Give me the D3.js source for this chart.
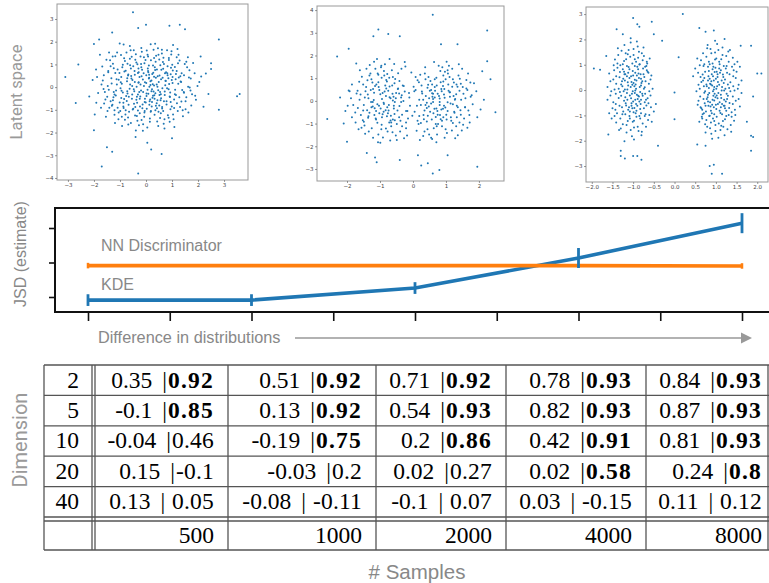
<!DOCTYPE html>
<html><head><meta charset="utf-8">
<script src="https://cdn.jsdelivr.net/npm/d3@7"></script>
<style>body{margin:0;background:#fff}svg{display:block}</style>
</head><body>
<svg id="c" width="769" height="583"></svg>
<script>
// ---------- data ----------
// latent space samples (x,y flat)
const latent1 = [-0.5,3.3,0,2.75,0.9,2.7,1.3,2.75,1.5,2.55,-1.3,2.4,-0.3,2.6,2.8,2.1,-2,1.9,-1.8,2.1,-3.1,0.45,-2.6,1.0,3.6,-0.3,3.5,-0.4,-2.7,-0.7,2.8,-1.0,-1.7,-3.5,-0.3,-3.8,-1.5,-2.65,-1.3,-2.85,0.6,-2.95,0.2,-2.75,0.05,-2.45,1.0,-2.25,-0.4,-2.2,-2.0,-1.9,2.5,1.05,2.5,0.8,2.3,0.6,2.1,1.35,2.4,-0.3,
-0.52,0.31,0.14,-0.62,1.02,0.45,-1.21,-0.33,0.37,1.12,-0.08,0.05,0.66,-1.05,-0.91,0.88,1.45,-0.21,-1.62,0.52,0.21,-0.18,-0.35,-1.27,0.83,0.92,-0.74,-0.61,1.18,1.31,-0.16,1.56,0.49,0.22,-1.05,-1.12,1.72,0.38,-0.44,0.71,0.03,-0.95,-1.38,1.18,0.92,-0.44,-0.63,-0.07,0.28,0.63,1.31,-0.88,-0.22,-0.41,-1.84,-0.26,0.61,1.48,-0.97,0.21,0.11,0.38,1.06,-1.41,-0.55,1.34,-1.29,-0.78,0.74,0.08,-0.11,-1.63,1.58,0.87,-0.81,-1.44,0.41,-0.71,-1.47,0.05,0.18,1.89,0.95,0.57,-0.29,0.19,1.92,-0.56,-0.68,0.56,0.33,-1.22,-1.11,1.52,0.57,-0.31,-0.41,-0.88,1.24,0.15,-1.73,-0.91,0.07,0.82,0.79,-0.77,-0.89,-0.24,1.49,1.02,-0.19,-0.15,0.46,1.71,-1.33,0.39,0.99,0.31,-0.58,-1.58,0.25,-0.47,-0.02,1.19,1.63,-1.12,-1.02,0.62,0.52,0.51,-0.37,-0.56,1.12,-0.12,-1.56,-0.55,0.15,-1.38,-0.71,1.03,0.88,1.19,-0.25,0.45,1.37,0.61,-1.19,-1.58,0.42,-0.93,-0.86,-0.92,0.01,0.18,2.05,0.22,-0.47,1.62,0.68,-1.61,-1.68,0.91,0.31,0.07,-0.13,-0.76,1.21,1.68,-0.95,-0.48,0.59,0.76,-2.05,0.31,0.09,-0.29,0.94,-0.98,-0.61,0.11,1.55,-0.45,-0.33,1.01,-1.24,0.83,0.72,-0.19,-0.06,-1.12,1.03,0.73,-0.79,-1.21,0.39,1.38,-1.43,-0.12,0.22,-0.85,1.81,1.06,-0.53,-0.32,0.86,0.39,-1.01,1.92,0.12,0.55,-0.39,-1.91,1.36,-0.63,-1.91,-0.69,0.63,-0.05,-0.15,0.76,1.09,-1.76,-0.72,0.39,0.36,-0.27,-1.16,-0.37,0.81,1.62,-0.31,-1.03,1.68,-0.02,-0.84,1.27,0.27,0.95,-1.54,-1.31,0.54,-1.36,-0.04,-0.51,1.26,0.42,-0.67,-0.78,0.17,0.26,2.21,-0.86,-1.32,0.16,0.77,0.65,-0.21,1.35,1.15,-0.35,-0.98,-0.05,0.44,-0.58,-1.77,1.42,0.05,-1.78,0.97,1.44,-0.49,0.92,1.42,-1.28,-1.09,-0.91,0.31,1.28,-0.26,-0.22,1.87,0.61,-0.65,-1.09,0.69,-0.62,-1.45,0.71,0.13,0.02,1.01,0.98,-0.83,0.69,0.48,-1.09,-2.18,-0.41,0.58,0.35,-0.17,-1.45,1.33,0.25,-1.27,1.03,0.84,-1.24,-0.43,0.22,1.61,1.32,-0.92,-1.71,0.23,-0.66,-0.09,0.61,1.19,-0.71,-1.63,-0.08,0.65,1.11,-0.34,-0.69,0.93,-0.24,-1.21,-1.02,0.06,1.43,1.74,-0.81,-0.57,0.49,0.38,0.41,-0.76,-0.39,1.46,0.52,-1.36,-0.62,0.19,-1.05,-0.12,0.33,0.89,0.14,-0.96,1.41,0.51,-0.81,2.12,0.47,-0.69,-1.34,0.29,1.65,-1.52,1.21,1.08,-0.55,-0.23,-0.85,0.71,-1.82,-0.41,1.21,1.29,1.17,-1.88,0.45,0.02,-0.39,0.82,0.61,-0.87,-0.69,0.34,0.87,-0.07,-1.31,1.52,-0.97,-1.13,0.35,0.47,-0.14,-0.54,-0.51,1.15,0.58,-1.41,-0.91,0.62,-0.94,-0.28,0.66,1.04,1.85,-0.73,0.26,0.16,-0.54,-1.06,-1.42,0.76,0.27,-0.18,1.72,1.39,-0.13,-1.66,0.29,0.43,-1.51,-0.45,-0.18,0.99,-0.85,-0.89,0.99,0.26,0.13,1.67,0.74,-1.24,-0.22,0.55,0.96,-0.01,-0.68,-0.62,1.81,1.22,-1.05,-1.97,-1.21,0.32,-0.36,-0.36,0.02,0.91,-1.52,-1.18,0.62,1.77,-0.31,-0.51,-0.99,0.08,0.71,0.67,1.29,-0.94,-0.16,1.11,0.89,-0.27,-1.68,0.45,0.48,-1.49,-0.42,1.98,0.05,-0.06,1.05,-0.78,-1.02,0.58,-0.49,-1.28,1.35,0.87,-0.09,-0.31,-0.33];
const latent1More = [0.12,0.41,-0.31,0.62,0.54,-0.21,-0.72,-0.18,0.27,-0.38,-0.18,0.88,0.83,0.52,-0.46,-0.73,0.06,-0.12,0.69,1.02,-0.95,0.45,0.41,0.11,-0.24,-0.51,1.11,-0.31,-0.61,0.96,0.18,-1.09,-1.12,0.12,0.79,-0.62,-0.08,1.31,0.35,0.75,-0.53,0.05,1.35,0.22,-0.87,-0.85,0.21,0.29,-0.39,1.45,0.62,-0.88,-1.25,-0.45,0.96,0.85,0.02,-0.28,-0.69,0.51,0.48,1.42,-0.14,-0.93,1.52,-0.62,-1.45,0.65,0.33,-0.51,-0.28,0.21,0.75,0.28,-1.01,-0.68,0.11,0.95,1.23,1.05,-0.42,-1.25,0.57,-1.15,-0.81,1.15,0.24,0.58,-0.05,-0.66,1.65,0.42,-1.58,-0.21,0.44,0.02,-0.37,1.08,0.91,-0.41,-0.66,-0.42,0.15,-1.52,-1.18,1.36,1.02,0.18,-0.21,0.12,0.66,0.81,-0.93,-1.31,0.38,-0.82,-0.56,0.38,1.41,-1.02,-1.36,0.92,0.09,0.65,0.72,-0.35,-0.11,-0.21,-0.78,0.72,1.18,0.71,-0.33,-1.48,0.51,1.22,-1.05,0.32,0.87,-1.35,0.03,1.61,-0.49,-0.95,1.71,-0.15,-1.71,0.12,0.29,-0.19,-0.59,1.62,1.28,-0.45,-1.21,-1.22,0.64,0.41,-0.17,0.48,0.98,1.58,-0.84,-0.52,0.47,-1.71,-0.04,0.21,1.08,-0.92,-1.42,1.52,0.19,1.18,-0.71,-0.28,0.81,-0.05,-0.29,0.82,1.55,1.12,-1.09,0.78,0.36,-1.02,-0.47,-0.09,0.73,0.61,-1.31,-0.82,0.13,-0.78,1.32,0.48,-0.62,1.25,0.56,-0.58,-0.93,0.15,0.08,1.35,1.89,-0.38,-1.61,-0.72,0.42,0.78,-0.24,-1.15,0.95,-0.65,-0.75,1.52,0.23,-0.09,-1.15,-0.15,1.14,0.35,-0.43,0.55,0.61,1.65,-0.99,-1.05,0.31,0.46,-0.12,-1.92,1.46,-0.25,-1.92,0.78,0.71,-1.42,-0.35,-0.42,0.88,1.28,-0.58,0.82,0.17,0.09,-1.27,-0.58,1.04,-1.21,-0.19,1.02,0.52,-0.35,-0.86,1.88,1.62,0.02,-0.05,-1.05,0.35,1.91,-0.68,-1.65,1.25,1.42,-1.48,-1.05,0.01,0.52];
const latent2 = [0.6,3.8,2.25,3.1,-1.05,3.15,-0.75,2.95,-1.2,2.85,-0.4,2.85,1.35,2.5,0.85,2.5,-2.3,1.95,-1.95,2.3,-2.6,-0.8,-2.1,-1.0,-2.0,-1.8,2.5,-0.5,2.35,0.95,2.1,1.3,2.25,1.75,-1.1,-2.7,-1.15,-2.5,-1.4,-2.3,0.25,-2.85,0.45,-2.75,0.6,-3.2,0.8,-3.05,1.95,-2.9,-0.4,-2.6,0.15,-2.4,1.05,-2.4,
-0.82,0.21,0.71,-0.34,-1.12,-0.45,0.95,0.52,-0.56,0.78,0.42,-0.91,-1.35,0.12,1.21,-0.15,-0.68,-0.87,0.58,0.34,-0.95,1.02,0.88,-1.12,-0.41,-0.23,1.45,0.76,-1.58,-0.62,0.31,0.05,-0.77,-1.35,1.06,1.21,-1.02,0.48,0.62,-0.55,-0.25,0.41,1.33,-0.72,-1.26,0.95,0.47,1.05,-0.88,-0.14,0.81,0.11,-1.47,-1.08,1.58,-0.28,-0.61,0.02,0.19,-0.67,-1.14,1.42,1.12,0.38,-0.49,-1.02,0.73,-1.48,-1.71,0.32,0.92,0.85,-0.33,-0.61,1.75,0.18,-0.92,-0.59,0.37,1.48,-1.22,-0.25,1.01,-0.61,-0.71,0.63,0.55,-0.12,-1.63,0.84,1.38,1.12,-0.52,-1.52,0.84,-0.81,-0.99,0.29,0.26,0.68,-1.39,-0.41,1.27,0.05,-0.64,1.35,0.66,0.61,-1.81,-0.18,1.52,-1.05,-0.36,0.15,0.98,-0.29,-1.08,-0.96,0.44,-1.25,-0.81,0.54,1.65,0.48,-1.31,1.58,0.12,-0.21,-0.58,-0.34,1.09,1.55,-1.52,-0.85,0.79,0.21,-0.21,-1.21,1.44,-0.41,-0.87,1.12,0.51,0.45,-1.19,0.04,1.18,-1.31,-0.46,0.52,0.69,-0.71,-1.95,0.46,0.99,0.95,-0.74,-0.42,0.35,-0.42,-1.05,-1.48,1.71,-0.62,-0.62,0.31,0.83,1.32,-1.42,0.61,0.22,1.15,-0.94,-0.72,1.31,0.29,-0.38,-0.88,0.61,-0.05,-1.67,-0.31,1.92,0.42,-0.85,1.61,0.45,-0.65,-1.25,-1.21,1.05,-0.06,-0.54,0.96,0.76,-1.02,-2.05,-0.45,1.24,0.81,-0.29,-0.01,0.91,0.65,-1.11,0.72,0.17,-1.02,-0.73,-0.18,1.49,1.41,-1.36,-0.74,0.64,1.71,-0.45,1.22,1.16,-0.88,-0.98,-0.34,0.39,0.22,-1.55,1.06,1.81,-0.15,-0.66,-1.12,0.87,0.42,-1.18,0.36,0.08,0.48,-0.91,-1.61,1.36,-1.51,-0.31,0.68,0.57,-0.82,-1.75,-0.51,1.11,1.05,-0.59,0.18,0.74,-0.45,-1.29,1.21,0.31,-1.55,-0.79,0.85,1.62,0.92,-1.46,0.15,0.94,-0.21,-0.17,-0.45,1.41,0.45,-1.03,-0.21,0.53,0.88,-0.67,-0.65,1.26,-0.52,-1.88,0.12,0.71,1.02,-0.42,-0.72,1.03,-1.41,-1.17,-0.62,0.28,0.32,-0.86,0.41,1.55,-0.78,-1.61,1.35,0.82,-0.62,-0.23,1.52,1.19,0.62,-1.34,-1.35,0.49,0.12,-0.72,-0.95,1.67,1.21,-1.07,1.21,0.63,-1.21,-0.47,-0.42,0.96,0.14,-1.21,0.52,1.33,-0.21,-0.94,0.08,0.42,-0.31,-1.49,-0.18,2.05,-0.38,-0.57,1.62,0.86,-0.38,-1.13,-0.78,0.14,0.91,-0.83,-0.41,1.46,0.05,-1.72,1.65,1.02,1.72,-0.39,-1.35,0.67,0.45,-1.27,-0.05,1.21,-0.98,-0.63,0.68,0.33,-0.81,-0.96,-1.25,1.85,0.78,-1.44,0.42,0.75,0.31,-0.15,-0.78,1.11,0.38,-0.78,1.18,0.58,-1.68,-1.56,-1.18,1.39,1.61,-0.51,0.35,0.92,-0.72,-1.09,1.85,0.19,0.05,-0.89,-0.08,1.58,-0.28,-1.23,0.81,0.46,0.71,-0.69,-1.75,1.07,0.72,-1.98,-0.21,0.81,-0.18,-0.34,0.25,1.28,-1.65,-1.04,0.61,0.61,0.08,-0.76,-0.55,1.53,0.31,-1.37,0.28,0.24,-0.98,-0.55,-0.05,0.97,1.28,-1.16,-0.32,1.72,-0.95,-0.81,0.92,0.38,-0.18,-1.51,0.72,1.14,-0.12,-0.27,-1.65,0.72,0.68,-0.97,1.48,0.52,-0.48,-1.32,-0.52,1.42,0.98,-0.61,-0.82,0.88,-0.88,-1.85,0.72,0.04,0.42,-0.71,0.16,1.23,0.22,-1.06,-1.82,0.66,0.15];
const latent2More = [-0.12,0.35,0.05,-0.48,-0.21,-0.95,0.18,0.82,-0.05,1.25,0.11,-1.32,-0.28,0.65,0.24,-0.18,-0.09,-0.21,0.02,0.62,-1.62,0.05,1.62,0.55,-1.21,-1.62,1.31,-1.12,-0.71,1.85,0.78,1.55,-1.41,1.41,1.45,-0.61,-0.95,-1.05,0.99,-1.25,-0.52,0.12,0.48,-0.25,-0.78,-0.28,0.61,0.31,-1.05,0.82,1.05,-0.45,-0.33,-1.12,0.36,1.21,-1.85,-0.72,1.78,0.25,-0.62,-1.38,0.55,-1.62,-1.28,0.48,1.21,0.95,-0.45,0.55,0.69,-1.02,-1.51,-0.42,1.51,0.61,-0.88,1.32,0.92,1.12,-0.21,-0.45,0.27,0.41,-1.12,-0.82,1.15,-0.72,-0.68,0.12,0.81,-0.05,-1.38,0.91,1.36,-0.28,-0.99,-1.85,0.71,-1.82,-0.41,0.88,0.44,0.58,-1.68,0.45,1.68,-0.42,-0.79,-0.68,0.86,0.52,-1.18,1.72,1.19,1.42,-0.56,-0.58,0.58,0.72,-1.45,-1.45,1.48,-1.31,-0.11,0.15,0.14,-0.88,-0.92,0.35,0.94,0.28,-1.26,-0.28,1.28,0.08,-0.61,1.05,0.65,-0.35,-0.36,-0.05,0.38,0.95,-1.02,-0.55,1.02,-0.82,-0.84,0.68,0.84,0.82,-1.59,0.28,1.59,0.12,-0.49,-1.72,0.49,-1.48,-1.92,0.42,1.95,-0.72,-0.75,0.45,0.75,-0.61,-1.32,1.12,1.32,0.72,-0.25,1.71,0.21,-1.72,-1.08,-0.15,1.08,0.45,-0.66,-0.95,0.66,0.95,-1.49,-0.92,1.41,-0.95,-0.18,-1.52,0.32,-0.62,-0.96,1.55,0.96,-1.62,-1.22,-0.05,1.25,-0.48,-0.82,-1.22,0.89,1.48,-1.74,-0.95,1.74,0.81,-0.42,0.32,0.42,-0.08,-1.15,0.65,1.12,0.18,-0.58,-0.21,0.59,0.18,-2.21,0.15,2.15,0.05,-0.72,1.02,0.72,-1.12,-1.35,-0.68,1.35,0.62,-0.02,-0.65,0.08,1.05,-0.89,-0.48,0.91,-0.35,-1.65,-1.25,1.65,-1.18,-0.35,1.42,0.35,-1.35,-1.05,1.15,1.05,1.35,-0.55,-0.85,0.55,0.48];
const latent3 = [-1.0,2.85,-0.9,2.6,-0.85,2.5,-0.55,2.7,-0.5,2.2,-1.4,2.4,-1.25,2.2,0.2,3.0,-1.95,0.85,-1.8,0.8,-1.65,1.35,-1.6,-1.75,-1.3,-2.4,-1.3,-2.6,-1.2,-2.7,-1.0,-2.6,-0.8,-2.75,-0.9,-2.6,-0.4,-2.2,0.0,-1.15,0.0,-0.1,0.1,1.3,0.9,-3.3,0.85,-3.0,0.95,-2.95,1.15,-3.3,0.55,-2.15,0.75,-2.2,1.9,-0.25,1.85,-1.8,1.9,-1.85,1.85,-2.4,2.0,0.65,2.1,0.65,1.85,1.75,1.6,1.75,1.75,-1.25,0.6,2.45,0.95,2.35,0.75,2.3,-0.3,1.95,
-1.02,0.21,-0.85,-0.45,-1.21,0.62,-0.93,1.12,-1.12,-0.78,-0.78,0.35,-1.35,0.05,-0.98,-1.21,-0.71,-0.15,-1.18,1.45,-0.88,0.82,-1.05,-0.32,-1.42,-0.55,-0.65,0.72,-0.95,-0.02,-1.25,1.02,-0.81,-0.92,-1.09,0.48,-0.74,1.35,-1.31,-1.12,-0.91,0.58,-1.15,-0.12,-0.68,-0.61,-1.48,0.42,-0.99,1.62,-1.22,-0.42,-0.84,0.12,-1.06,-1.58,-0.62,0.25,-1.38,0.88,-0.89,-0.35,-1.11,0.91,-0.77,-1.32,-1.29,0.22,-0.97,-0.71,-0.58,-0.21,-1.19,-0.95,-0.86,1.51,-1.55,-0.21,-1.01,0.75,-0.73,0.52,-1.27,-0.68,-0.92,-1.05,-1.13,0.31,-0.66,1.05,-1.44,1.21,-0.83,-0.08,-1.04,-0.52,-1.21,1.78,-0.79,-1.65,-0.96,0.41,-1.35,-0.31,-0.71,0.92,-1.08,-0.21,-1.58,0.65,-0.88,1.28,-1.16,-1.38,-0.61,-0.98,-1.02,1.05,-1.26,0.15,-0.82,-0.55,-1.39,-0.92,-0.94,0.22,-0.69,-0.38,-1.12,0.68,-0.99,-0.88,-1.45,0.02,-0.75,1.68,-1.23,-0.05,-0.87,0.65,-1.07,1.32,-0.64,-1.18,-1.33,0.51,-0.91,-0.18,-1.17,-0.61,-0.8,0.28,-1.5,-0.72,-1.03,-1.82,-0.72,0.11,-1.28,1.55,-0.9,-0.62,-1.14,0.02,-0.56,0.58,-1.41,-1.28,-0.96,0.95,-0.83,-1.12,-1.2,0.38,-1.0,-0.45,-0.67,0.78,-1.32,0.71,-0.86,-0.25,-1.09,-1.02,-1.62,-0.38,-0.77,1.18,-1.24,-0.85,-0.93,0.05,-1.06,1.88,-0.63,-0.52,-1.36,1.38,-0.89,-1.45,-1.15,0.55,-0.74,-0.72,-1.01,-0.05,-1.47,0.98,-0.81,0.45,-1.19,-0.28,-0.98,-1.95,-0.53,0.05,-1.25,0.82,-0.85,1.01,-1.1,-0.68,-0.7,-0.95,-1.53,-0.05,-0.95,0.68,-1.3,-1.52,-0.78,-0.15,-1.04,0.32,-0.6,1.25,-1.22,1.15,-0.92,-0.82,-1.13,-1.22,-0.82,0.62,-1.42,-0.15,-0.99,1.38,
1.02,-0.21,0.85,0.45,1.21,-0.62,0.93,-1.12,1.12,0.78,0.78,-0.35,1.35,-0.05,0.98,1.21,0.71,0.15,1.18,-1.45,0.88,-0.82,1.05,0.32,1.42,0.55,0.65,-0.72,0.95,0.02,1.25,-1.02,0.81,0.92,1.09,-0.48,0.74,-1.35,1.31,1.12,0.91,-0.58,1.15,0.12,0.68,0.61,1.48,-0.42,0.99,-1.62,1.22,0.42,0.84,-0.12,1.06,1.58,0.62,-0.25,1.38,-0.88,0.89,0.35,1.11,-0.91,0.77,1.32,1.29,-0.22,0.97,0.71,0.58,0.21,1.19,0.95,0.86,-1.51,1.55,0.21,1.01,-0.75,0.73,-0.52,1.27,0.68,0.92,1.05,1.13,-0.31,0.66,-1.05,1.44,-1.21,0.83,0.08,1.04,0.52,1.21,-1.78,0.79,1.65,0.96,-0.41,1.35,0.31,0.71,-0.92,1.08,0.21,1.58,-0.65,0.88,-1.28,1.16,1.38,0.61,0.98,1.02,-1.05,1.26,-0.15,0.82,0.55,1.39,0.92,0.94,-0.22,0.69,0.38,1.12,-0.68,0.99,0.88,1.45,-0.02,0.75,-1.68,1.23,0.05,0.87,-0.65,1.07,-1.32,0.64,1.18,1.33,-0.51,0.91,0.18,1.17,0.61,0.8,-0.28,1.5,0.72,1.03,1.82,0.72,-0.11,1.28,-1.55,0.9,0.62,1.14,-0.02,0.56,-0.58,1.41,1.28,0.96,-0.95,0.83,1.12,1.2,-0.38,1.0,0.45,0.67,-0.78,1.32,-0.71,0.86,0.25,1.09,1.02,1.62,0.38,0.77,-1.18,1.24,0.85,0.93,-0.05,1.06,-1.88,0.63,0.52,1.36,-1.38,0.89,1.45,1.15,-0.55,0.74,0.72,1.01,0.05,1.47,-0.98,0.81,-0.45,1.19,0.28,0.98,1.95,0.53,-0.05,1.25,-0.82,0.85,-1.01,1.1,0.68,0.7,0.95,1.53,0.05,0.95,-0.68,1.3,1.52,0.78,0.15,1.04,-0.32,0.6,-1.25,1.22,-1.15,0.92,0.82,1.13,1.22,0.82,-0.62,1.42,0.15,0.99,-1.38];
const latent3More = [-1.05,0.55,-0.88,-0.22,-1.15,0.95,-0.72,-0.48,-1.32,-0.08,-0.96,1.22,-1.18,-0.52,-0.81,0.18,-1.41,0.55,-0.65,-0.32,-1.08,-1.12,-0.92,0.38,-1.25,-1.35,-0.76,0.85,-1.02,-0.72,-1.38,1.05,-0.85,-1.02,-1.12,0.18,-0.58,0.42,-1.48,-0.48,-0.95,-0.38,-1.22,0.72,-0.79,1.45,-1.06,0.12,-0.69,-1.45,-1.33,-0.62,-0.9,0.92,-1.16,-1.68,-0.61,-0.05,-1.27,0.35,-1.0,0.58,-0.83,-0.75,-1.45,-1.02,-0.74,0.05,-1.11,1.58,-0.93,-0.55,-1.2,0.02,-0.67,1.12,-1.55,0.35,-0.98,-1.48,-1.29,-0.22,-0.86,0.48,-1.03,-0.15,-0.57,-0.68,-1.37,1.65,-0.89,1.72,-1.14,-0.38,-0.72,-1.02,-1.52,-1.12,-0.97,0.15,-1.24,0.45,-0.8,-1.78,-1.09,0.82,-0.63,0.68,-1.43,-0.78,-0.94,-0.92,-1.17,1.22,-0.77,-0.22,-1.31,0.98,-1.01,-1.25,-0.55,-1.25,-1.62,0.12,-0.84,1.02,-1.21,-2.02,-0.7,0.35,-1.08,-0.85,-0.91,1.92,-1.34,-1.58,-0.45,-0.55,-1.19,0.62,-0.96,-0.12,-1.58,-0.92,-0.75,0.62,-1.06,2.05,-0.5,-0.85,-1.41,0.25,-0.87,-1.62,-1.13,1.41,-0.68,0.95,-1.26,-0.95,-0.99,0.28,-0.81,-0.38,-1.46,0.78,-1.04,-0.62,
1.05,-0.55,0.88,0.22,1.15,-0.95,0.72,0.48,1.32,0.08,0.96,-1.22,1.18,0.52,0.81,-0.18,1.41,-0.55,0.65,0.32,1.08,1.12,0.92,-0.38,1.25,1.35,0.76,-0.85,1.02,0.72,1.38,-1.05,0.85,1.02,1.12,-0.18,0.58,-0.42,1.48,0.48,0.95,0.38,1.22,-0.72,0.79,-1.45,1.06,-0.12,0.69,1.45,1.33,0.62,0.9,-0.92,1.16,1.68,0.61,0.05,1.27,-0.35,1.0,-0.58,0.83,0.75,1.45,1.02,0.74,-0.05,1.11,-1.58,0.93,0.55,1.2,-0.02,0.67,-1.12,1.55,-0.35,0.98,1.48,1.29,0.22,0.86,-0.48,1.03,0.15,0.57,0.68,1.37,-1.65,0.89,-1.72,1.14,0.38,0.72,1.02,1.52,1.12,0.97,-0.15,1.24,-0.45,0.8,1.78,1.09,-0.82,0.63,-0.68,1.43,0.78,0.94,0.92,1.17,-1.22,0.77,0.22,1.31,-0.98,1.01,1.25,0.55,1.25,1.62,-0.12,0.84,-1.02,1.21,2.02,0.7,-0.35,1.08,0.85,0.91,-1.92,1.34,1.58,0.45,0.55,1.19,-0.62,0.96,0.12,1.58,0.92,0.75,-0.62,0.5,0.85,1.41,-0.25,0.87,1.62,1.13,-1.41,0.68,-0.95,1.26,0.95,0.99,-0.28,0.81,0.38,1.46,-0.78,1.04,0.62];

const p1XTicks = [-3,-2,-1,0,1,2,3], p1YTicks = [-4,-3,-2,-1,0,1,2,3];
const p2XTicks = [-2,-1,0,1,2], p2YTicks = [-3,-2,-1,0,1,2,3,4];
const p3XTicks = [-2,-1.5,-1,-0.5,0,0.5,1,1.5,2], p3YTicks = [-3,-2,-1,0,1,2,3];

// JSD line chart
const steps = [0,1,2,3,4];
const kdeJSD = [0.091,0.091,0.126,0.213,0.314];
const kdeErr = [0.017,0.017,0.017,0.029,0.029];
const nnJSD  = [0.191,0.191,0.191,0.191,0.190];
const nnErr  = [0.008,0.004,0.004,0.004,0.008];
const jsdXTicks = [0,0.5,1,1.5,2,2.5,3,3.5,4];
const jsdYTicks = [0.1,0.2,0.3];

// table
const dims = [2,5,10,20,40];
const sampleSizes = [500,1000,2000,4000,8000];
const kdeScores = [[0.35,0.51,0.71,0.78,0.84],[-0.1,0.13,0.54,0.82,0.87],[-0.04,-0.19,0.2,0.42,0.81],[0.15,-0.03,0.02,0.02,0.24],[0.13,-0.08,-0.1,0.03,0.11]];
const nnScores  = [[0.92,0.92,0.92,0.93,0.93],[0.85,0.92,0.93,0.93,0.93],[0.46,0.75,0.86,0.91,0.93],[-0.1,0.2,0.27,0.58,0.8],[0.05,-0.11,0.07,-0.15,0.12]];
const separators = ["|","|","|","|","| "];

// ---------- drawing ----------
const svg = d3.select("#c");
const blue = "#1f77b4", orange = "#ff7f0e", gray = "#888";
const pairs = a => d3.range(0, a.length, 2).map(i => [a[i], a[i+1]]);

function scatter(pts, xd, yd, xr, yr, xt, yt, fmt) {
  const x = d3.scaleLinear().domain(xd).range(xr);
  const y = d3.scaleLinear().domain(yd).range(yr);
  const g = svg.append("g");
  g.append("rect").attr("x", xr[0]).attr("y", yr[1]).attr("width", xr[1]-xr[0]).attr("height", yr[0]-yr[1])
    .attr("fill", "none").attr("stroke", "#999").attr("stroke-width", 1);
  g.selectAll("circle").data(pairs(pts)).join("circle")
    .attr("cx", d => x(d[0])).attr("cy", d => y(d[1])).attr("r", 1.0).attr("fill", blue);
  const ax = g.append("g").attr("transform", `translate(0,${yr[0]})`)
    .call(d3.axisBottom(x).tickValues(xt).tickSize(2).tickPadding(1.5).tickFormat(d3.format(fmt)));
  const ay = g.append("g").attr("transform", `translate(${xr[0]},0)`)
    .call(d3.axisLeft(y).tickValues(yt).tickSize(2).tickPadding(1.5).tickFormat(d3.format("d")));
  [ax, ay].forEach(a => {
    a.select(".domain").remove();
    a.selectAll("line").attr("stroke", "#555").attr("stroke-width", 0.6);
    a.selectAll("text").attr("font-size", 5.5).attr("font-family", "DejaVu Sans").attr("fill", "#444");
  });
}
scatter(latent1.concat(latent1More), [-3.42,3.92], [-4.09,3.66], [57,248], [180,4], p1XTicks, p1YTicks, "d");
scatter(latent2.concat(latent2More), [-2.91,2.76], [-3.53,4.18], [317,504], [181,6], p2XTicks, p2YTicks, "d");
scatter(latent3.concat(latent3More), [-2.14,2.26], [-3.63,3.28], [586,768], [182,7], p3XTicks, p3YTicks, ".1f");

svg.append("text").attr("transform", "translate(22,92) rotate(-90)").attr("text-anchor", "middle")
  .attr("font-family", "Roboto").attr("font-size", 16.5).attr("fill", "#9a9a9a").text("Latent space");

// line chart
const lx = d3.scaleLinear().domain([0,4]).range([88,742]);
const ly = d3.scaleLinear().domain([0.0565,0.358]).range([312,208]);
const lc = svg.append("g");
const xa = lc.append("g").attr("transform", "translate(0,312)")
  .call(d3.axisBottom(lx).tickValues(jsdXTicks).tickSize(9).tickFormat(""));
const ya = lc.append("g").attr("transform", "translate(55,0)")
  .call(d3.axisLeft(ly).tickValues(jsdYTicks).tickSize(6).tickFormat(""));
[xa, ya].forEach(a => { a.select(".domain").remove(); a.selectAll("line").attr("stroke", "#111").attr("stroke-width", 1.6); });
lc.append("path").attr("d", "M775,208H55V312H775").attr("fill", "none").attr("stroke", "#111").attr("stroke-width", 2);

const line = d3.line().x((d,i) => lx(steps[i])).y(d => ly(d));
lc.append("path").datum(kdeJSD).attr("d", line).attr("fill", "none").attr("stroke", blue).attr("stroke-width", 3.6);
lc.append("path").datum(nnJSD).attr("d", line).attr("fill", "none").attr("stroke", orange).attr("stroke-width", 3.6);
lc.selectAll(".enn").data(steps).join("line")
  .attr("x1", i => lx(i)).attr("x2", i => lx(i))
  .attr("y1", i => ly(nnJSD[i]-nnErr[i])).attr("y2", i => ly(nnJSD[i]+nnErr[i]))
  .attr("stroke", orange).attr("stroke-width", 2.5);
lc.selectAll(".ekde").data(steps).join("line")
  .attr("x1", i => lx(i)).attr("x2", i => lx(i))
  .attr("y1", i => ly(kdeJSD[i]-kdeErr[i])).attr("y2", i => ly(kdeJSD[i]+kdeErr[i]))
  .attr("stroke", blue).attr("stroke-width", 2.8);

const sans = "Liberation Sans, Arial, sans-serif";
lc.append("text").attr("x", 101).attr("y", 251).attr("font-family", sans).attr("font-size", 16).attr("fill", gray).text("NN Discriminator");
lc.append("text").attr("x", 101).attr("y", 290).attr("font-family", sans).attr("font-size", 16).attr("fill", gray).text("KDE");
lc.append("text").attr("x", 98).attr("y", 343).attr("font-family", sans).attr("font-size", 16.3).attr("fill", gray).text("Difference in distributions");
lc.append("line").attr("x1", 295).attr("x2", 743).attr("y1", 338).attr("y2", 338).attr("stroke", "#999").attr("stroke-width", 1.6);
lc.append("path").attr("d", "M741,332.5L752,338L741,343.5Z").attr("fill", "#999");
lc.append("text").attr("transform", "translate(26,254) rotate(-90)").attr("text-anchor", "middle")
  .attr("font-family", sans).attr("font-size", 16).attr("fill", gray).text("JSD (estimate)");

// table
const tb = svg.append("g");
const top0 = 365, rowH = 30.4, footTop = 521, bottom = 550;
const textRight = [79, 214, 362, 492, 632, 762];
const vlines = [44, 92, 95, 228, 376, 506, 646, 768];
const hlines = d3.range(0, dims.length + 1).map(i => top0 + i*rowH).concat([footTop, bottom]);
tb.selectAll(".h").data(hlines).join("line").attr("x1", 44).attr("x2", 769).attr("y1", d => d).attr("y2", d => d)
  .attr("stroke", "#555").attr("stroke-width", 1.3);
tb.selectAll(".v").data(vlines).join("line").attr("x1", d => d).attr("x2", d => d).attr("y1", top0).attr("y2", bottom)
  .attr("stroke", "#555").attr("stroke-width", 1.3);

const serif = "Liberation Serif, Times New Roman, serif";
const fs = 23.5;
dims.forEach((dm, r) => {
  const by = top0 + r*rowH + 22.5;
  tb.append("text").attr("x", textRight[0]).attr("y", by).attr("text-anchor", "end")
    .attr("font-family", serif).attr("font-size", fs).text(dm);
  sampleSizes.forEach((s, c) => {
    const t = tb.append("text").attr("x", textRight[c+1]).attr("y", by).attr("text-anchor", "end")
      .attr("font-family", serif).attr("font-size", fs).style("white-space", "pre");
    t.append("tspan").text(String(kdeScores[r][c]));
    t.append("tspan").attr("dx", 10).text(separators[r]);
    const bold = nnScores[r][c] > 0.5;
    t.append("tspan").attr("dx", 1)
      .attr("font-weight", bold ? "bold" : "normal")
      .attr("letter-spacing", bold ? 1.2 : 0.2)
      .text(nnScores[r][c]);
  });
});
sampleSizes.forEach((s, c) => {
  tb.append("text").attr("x", textRight[c+1]).attr("y", footTop + 21.5).attr("text-anchor", "end")
    .attr("font-family", serif).attr("font-size", fs).text(s);
});
svg.append("text").attr("transform", "translate(27,440) rotate(-90)").attr("text-anchor", "middle")
  .attr("font-family", "Roboto").attr("font-size", 20).attr("fill", "#9a9a9a").text("Dimension");
svg.append("text").attr("x", 417).attr("y", 579).attr("text-anchor", "middle")
  .attr("font-family", sans).attr("font-size", 20.5).attr("fill", gray).text("# Samples");
</script>
</body></html>
